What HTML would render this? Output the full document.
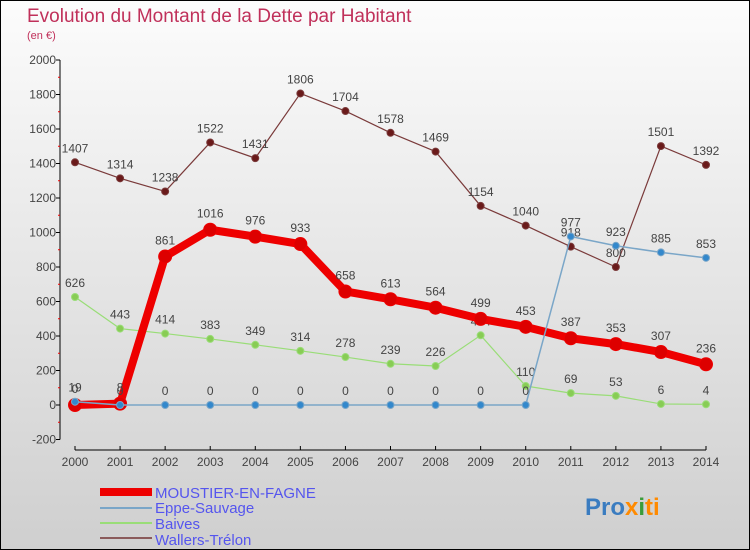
<!DOCTYPE html>
<html><head><meta charset="utf-8"><style>
html,body{margin:0;padding:0}
body{width:750px;height:550px;overflow:hidden;font-family:"Liberation Sans",sans-serif}
#wrap{position:absolute;left:0;top:0;width:748px;height:548px;border:1px solid #000;background:linear-gradient(#fcfcfc,#cfcfcf)}
</style></head><body>
<div id="wrap">
<svg id="chart" width="750" height="550" style="position:absolute;left:-1px;top:-1px">
<text x="27" y="22" font-size="19" fill="#c0305a">Evolution du Montant de la Dette par Habitant</text>
<text x="27" y="39" font-size="11" fill="#c0305a">(en €)</text>
<g id="axes"></g><g id="series"></g>
<g font-size="15" fill="#5555ee">
<line x1="100" y1="492" x2="152" y2="492" stroke="#ee0000" stroke-width="8"/>
<text x="155" y="498">MOUSTIER-EN-FAGNE</text>
<line x1="100" y1="508" x2="152" y2="508" stroke="#7aa6c8" stroke-width="2"/>
<text x="155" y="513">Eppe-Sauvage</text>
<line x1="100" y1="523" x2="152" y2="523" stroke="#99dd77" stroke-width="2"/>
<text x="155" y="529">Baives</text>
<line x1="100" y1="538" x2="152" y2="538" stroke="#8a5a5a" stroke-width="2"/>
<text x="155" y="545">Wallers-Trélon</text>
</g>
<text x="585" y="515" font-size="24" font-weight="bold"><tspan fill="#3a7cc0">Pro</tspan><tspan fill="#ff8a00">x</tspan><tspan fill="#3a9c3a">i</tspan><tspan fill="#ff8a00">ti</tspan></text>
</svg>
</div>
<script>
const years=[2000,2001,2002,2003,2004,2005,2006,2007,2008,2009,2010,2011,2012,2013,2014];
const moustier=[0,8,861,1016,976,933,658,613,564,499,453,387,353,307,236];
const eppe=[19,0,0,0,0,0,0,0,0,0,0,977,923,885,853];
const baives=[626,443,414,383,349,314,278,239,226,404,110,69,53,6,4];
const wallers=[1407,1314,1238,1522,1431,1806,1704,1578,1469,1154,1040,918,800,1501,1392];
const yTicks=[-200,0,200,400,600,800,1000,1200,1400,1600,1800,2000];
const NS="http://www.w3.org/2000/svg";
function xS(i){return 75+i*(706-75)/14;}
function yS(v){return 405-v*0.1725;}
function mk(tag,attrs,parent){const e=document.createElementNS(NS,tag);for(const k in attrs)e.setAttribute(k,attrs[k]);parent.appendChild(e);return e;}
const axes=document.getElementById('axes'),ser=document.getElementById('series');
let a=mk('line',{x1:60,y1:yS(2000),x2:60,y2:yS(-200),stroke:'#000'},axes);


yTicks.forEach(t=>{
 mk('line',{x1:56,x2:60,y1:yS(t),y2:yS(t),stroke:'#000'},axes);
 if(t<2000) mk('line',{x1:58,x2:60,y1:yS(t+100),y2:yS(t+100),stroke:'#e00'},axes);
 const tx=mk('text',{x:56,y:yS(t)+4,'text-anchor':'end','font-size':12,fill:'#444'},axes);
 tx.textContent=t;
 
 
});
a=mk('line',{x1:xS(0),x2:xS(14),y1:450,y2:450,stroke:'#000'},axes);


years.forEach((y,i)=>{
 mk('line',{x1:xS(i),x2:xS(i),y1:446,y2:450,stroke:'#000'},axes);
 const tx=mk('text',{x:xS(i),y:466,'text-anchor':'middle','font-size':12,fill:'#444'},axes);
 tx.textContent=y;
 
 
});
function draw(data,name,color,w,r,dot,labelOff){
 const g=mk('g',{},ser);
 
 
 const p=mk('polyline',{points:data.map((v,i)=>xS(i)+','+yS(v)).join(' '),fill:'none',stroke:color,'stroke-width':w,'stroke-linejoin':'round'},g);
 
 
 data.forEach((v,i)=>{
  const c=mk('circle',{cx:xS(i),cy:yS(v),r:r,fill:dot,stroke:color,'stroke-width':1},g);
  
  
  const t=mk('text',{x:xS(i),y:yS(v)-labelOff,'text-anchor':'middle','font-size':12,fill:'#444'},g);
  t.textContent=v;
  
  
 });
}
draw(wallers,'wallers','#7a3a3a',1.2,3.5,'#6a1a1a',10);
draw(baives,'baives','#99dd77',1.2,3.5,'#88cc55',10);
draw(moustier,'moustier','#ee0000',8,6.5,'#dd0000',12);
draw(eppe,'eppe','#7aa6c8',1.5,3.5,'#3388cc',10);
</script>
</body></html>
